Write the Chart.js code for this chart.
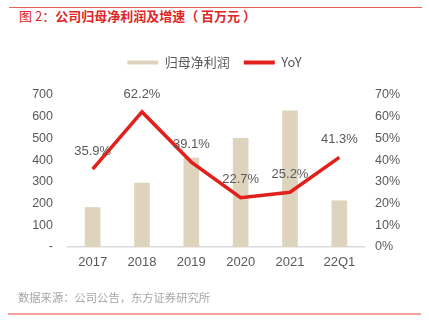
<!DOCTYPE html>
<html>
<head>
<meta charset="utf-8">
<script src="https://cdn.jsdelivr.net/npm/chart.js@4"></script>
<style>
  html, body { margin: 0; padding: 0; background: #fff; }
  body { width: 429px; height: 331px; position: relative; overflow: hidden;
         font-family: "Liberation Sans", "Noto Sans CJK SC", sans-serif; }
  .top-rule { position: absolute; left: 9px; width: 413px; top: 7px; height: 1px; background: #E8605A; }
  .title { position: absolute; left: 19px; top: 7px; font-size: 13px; line-height: 17px;
           color: #E02626; font-weight: bold; font-family: "Noto Sans CJK SC", sans-serif; white-space: nowrap; }
  .title .lead { font-weight: normal; }
  .source { position: absolute; left: 18px; top: 289px; font-size: 11.3px; line-height: 16px;
            color: #A6A6A6; font-family: "Noto Sans CJK SC", sans-serif; white-space: nowrap; }
  .bottom-rule { position: absolute; left: 8px; width: 413px; top: 313px; height: 2px; background: #F4A29C; }
  #wrap { position: absolute; left: 0; top: 0; width: 429px; height: 331px; }
</style>
</head>
<body>
<div class="top-rule"></div>
<div class="title"><span class="lead">图 2：</span>公司归母净利润及增速（ 百万元 ）</div>
<div id="wrap"><canvas id="chart" width="429" height="331"></canvas></div>
<div class="source">数据来源：公司公告，东方证券研究所</div>
<div class="bottom-rule"></div>
<script>
// ====== DATA ======
const categories = ["2017", "2018", "2019", "2020", "2021", "22Q1"];
const netProfit = [182, 294, 410, 501, 627, 213];      // 百万元
const yoy = [35.9, 62.2, 39.1, 22.7, 25.2, 41.3];        // %
const leftTicks = [0, 100, 200, 300, 400, 500, 600, 700];
const rightTicks = [0, 10, 20, 30, 40, 50, 60, 70];

const TICK_COLOR = "#595959";
const BAR_COLOR = "#DED4BD";
const LINE_COLOR = "#E2201C";

// draws the % labels above each YoY point
const pointLabels = {
  id: "pointLabels",
  afterDatasetsDraw(chart) {
    const ctx = chart.ctx;
    const meta = chart.getDatasetMeta(1);
    ctx.save();
    ctx.font = "13px 'Liberation Sans', sans-serif";
    ctx.fillStyle = TICK_COLOR;
    ctx.textAlign = "center";
    ctx.textBaseline = "middle";
    meta.data.forEach((pt, i) => {
      ctx.fillText(yoy[i].toFixed(1) + "%", pt.x, pt.y - 18);
    });
    ctx.restore();
  }
};

// extra gap under the legend
const legendGap = {
  id: "legendGap",
  beforeInit(chart) {
    const fit = chart.legend.fit;
    chart.legend.fit = function () {
      fit.bind(chart.legend)();
      this.height += 16;
    };
  }
};

const ctx = document.getElementById("chart").getContext("2d");
new Chart(ctx, {
  data: {
    labels: categories,
    datasets: [
      {
        type: "bar",
        label: "归母净利润",
        data: netProfit,
        backgroundColor: BAR_COLOR,
        borderColor: BAR_COLOR,
        borderWidth: 0,
        barThickness: 15,
        yAxisID: "y",
        order: 2
      },
      {
        type: "line",
        label: "YoY",
        data: yoy,
        borderColor: LINE_COLOR,
        backgroundColor: LINE_COLOR,
        borderWidth: 3.5,
        pointRadius: 0,
        tension: 0,
        fill: false,
        yAxisID: "y1",
        order: 1
      }
    ]
  },
  options: {
    responsive: false,
    animation: false,
    layout: { padding: { top: 42, left: 0, right: 0, bottom: 0 } },
    plugins: {
      tooltip: { enabled: false },
      legend: {
        position: "top",
        labels: {
          boxWidth: 31,
          boxHeight: 4,
          padding: 14,
          color: TICK_COLOR,
          sort: (a, b) => a.datasetIndex - b.datasetIndex,
          generateLabels(chart) {
            const items = Chart.defaults.plugins.legend.labels.generateLabels(chart);
            items.forEach(it => { it.lineWidth = 0; });
            return items;
          },
          font: { size: 13, family: "'Noto Sans CJK SC', 'Liberation Sans', sans-serif" }
        }
      }
    },
    scales: {
      x: {
        offset: true,
        grid: { display: false, drawTicks: false },
        border: { display: true, color: "#D9D9D9", width: 1.5 },
        ticks: { color: TICK_COLOR, padding: 8, font: { size: 13, family: "'Liberation Sans', sans-serif" } },
        afterFit(s) { s.height = 84; }
      },
      y: {
        position: "left",
        min: 0, max: 700,
        afterBuildTicks(s) { s.ticks = leftTicks.map(v => ({ value: v })); },
        grid: { display: false, drawTicks: false },
        border: { display: false },
        ticks: {
          color: TICK_COLOR, padding: 15,
          font: { size: 12.5, family: "'Liberation Sans', sans-serif" },
          callback: v => v === 0 ? "-" : String(v)
        },
        afterFit(s) { s.width = 68; }
      },
      y1: {
        position: "right",
        min: 0, max: 70,
        afterBuildTicks(s) { s.ticks = rightTicks.map(v => ({ value: v })); },
        grid: { display: false, drawTicks: false },
        border: { display: false },
        ticks: {
          color: TICK_COLOR, padding: 11,
          font: { size: 12.5, family: "'Liberation Sans', sans-serif" },
          callback: v => v + "%"
        },
        afterFit(s) { s.width = 65; }
      }
    }
  },
  plugins: [pointLabels, legendGap]
});
</script>
</body>
</html>
